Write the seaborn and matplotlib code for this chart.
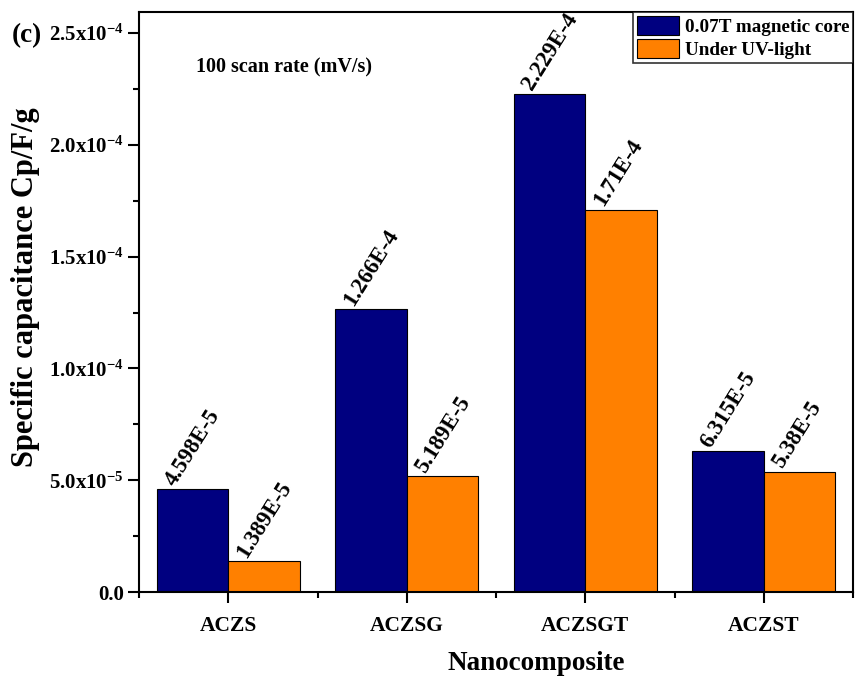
import matplotlib
matplotlib.use("Agg")
import matplotlib.pyplot as plt
import seaborn as sns
import pandas as pd
from matplotlib.ticker import FixedLocator, MultipleLocator

categories = ["ACZS", "ACZSG", "ACZSGT", "ACZST"]
series = ["0.07T magnetic core", "Under UV-light"]
magnetic = [4.598e-5, 1.266e-4, 2.229e-4, 6.315e-5]
uv = [1.389e-5, 5.189e-5, 1.71e-4, 5.38e-5]
magnetic_labels = ["4.598E-5", "1.266E-4", "2.229E-4", "6.315E-5"]
uv_labels = ["1.389E-5", "5.189E-5", "1.71E-4", "5.38E-5"]
ytick_values = [0.0, 5e-5, 1e-4, 1.5e-4, 2e-4, 2.5e-4]
ytick_labels = ["0.0", r"5.0x10$^{\mathbf{-5}}$", r"1.0x10$^{\mathbf{-4}}$",
                r"1.5x10$^{\mathbf{-4}}$", r"2.0x10$^{\mathbf{-4}}$", r"2.5x10$^{\mathbf{-4}}$"]
colors = ["#000080", "#FF8000"]

df = pd.DataFrame({
    "Nanocomposite": categories * 2,
    "Series": [series[0]] * 4 + [series[1]] * 4,
    "Value": magnetic + uv,
})

sns.set_style("ticks")
plt.rcParams["font.family"] = ["Liberation Serif", "DejaVu Serif"]
plt.rcParams["font.weight"] = "bold"
plt.rcParams["text.color"] = "black"
plt.rcParams["axes.labelcolor"] = "black"
plt.rcParams["xtick.color"] = "black"
plt.rcParams["ytick.color"] = "black"
plt.rcParams["axes.edgecolor"] = "black"
plt.rcParams["mathtext.fontset"] = "custom"
plt.rcParams["mathtext.rm"] = "Liberation Serif:bold"
plt.rcParams["mathtext.bf"] = "Liberation Serif:bold"
plt.rcParams["mathtext.default"] = "bf"

fig = plt.figure(figsize=(8.56, 6.81), dpi=100)
ax = fig.add_axes([139 / 856, 89 / 681, 714 / 856, 580 / 681])

sns.barplot(data=df, x="Nanocomposite", y="Value", hue="Series",
            palette=colors, width=0.8, edgecolor="black", linewidth=0.8,
            saturation=1, ax=ax, errorbar=None)

ax.set_xlim(-0.5, 3.5)
ax.set_ylim(0, 2.594e-4)

for cont, labels in zip(ax.containers, [magnetic_labels, uv_labels]):
    for bar, lab in zip(cont, labels):
        x = bar.get_x() + 0.1
        y = bar.get_height()
        ax.text(x, y + 1.0e-6, lab, rotation=58, rotation_mode="anchor",
                ha="left", va="baseline", fontsize=16.5, fontweight="bold",
                color="black")

ax.yaxis.set_major_locator(FixedLocator(ytick_values))
ax.set_yticklabels(ytick_labels)
ax.yaxis.set_minor_locator(MultipleLocator(2.5e-5))
ax.xaxis.set_minor_locator(FixedLocator([-0.5, 0.5, 1.5, 2.5, 3.5]))
ax.tick_params(axis="both", which="major", direction="out", length=8, width=1.5,
               labelsize=15, pad=3)
ax.tick_params(axis="both", which="minor", direction="out", length=4.5, width=1.5)
for lab in ax.get_xticklabels() + ax.get_yticklabels():
    lab.set_fontweight("bold")
ax.tick_params(axis="x", pad=9, labelsize=15.5)

for s in ax.spines.values():
    s.set_linewidth(1.5)
    s.set_visible(True)

ax.set_xlabel("Nanocomposite", fontsize=19.5, fontweight="bold", labelpad=11)
ax.set_ylabel("Specific capacitance Cp/F/g", fontsize=22, fontweight="bold", labelpad=6)
ax.xaxis.label.set_x(0.556)
ax.yaxis.label.set_y(0.526)

ax.text(57 / 714, 1 - 55 / 580, "100 scan rate (mV/s)", transform=ax.transAxes,
        fontsize=14.5, fontweight="bold", ha="left", va="center")
fig.text(12 / 856, 1 - 36 / 681, "(c)", fontsize=19.5, fontweight="bold",
         ha="left", va="center")

leg = ax.legend(loc="upper right", bbox_to_anchor=(1.0, 1.0), frameon=True,
                fancybox=False, edgecolor="black", fontsize=13.8,
                handlelength=2.2, handleheight=1.15, borderpad=0.2,
                labelspacing=0.15, handletextpad=0.3, borderaxespad=0.0)
leg.get_frame().set_linewidth(1.2)
for t in leg.get_texts():
    t.set_fontweight("bold")

fig.savefig("out.png", dpi=100)
